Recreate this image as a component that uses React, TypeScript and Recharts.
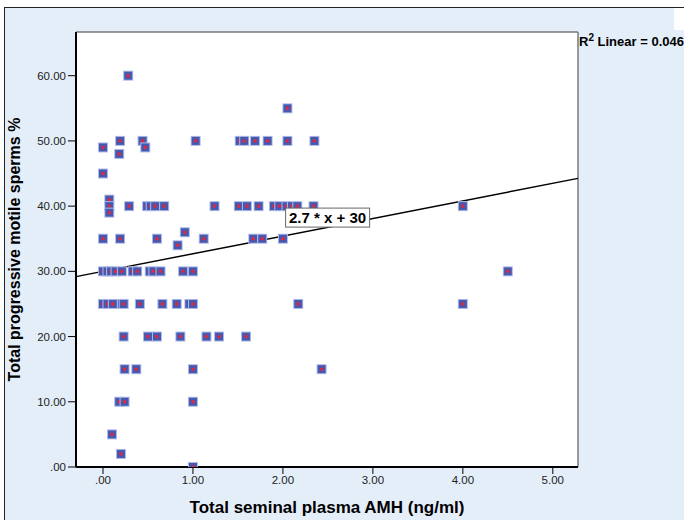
import React from 'react';
import {
    ScatterChart,
    Scatter,
    XAxis,
    YAxis,
    CartesianGrid,
    ReferenceLine,
    ReferenceDot
} from 'recharts';

// Total seminal plasma AMH (ng/ml), one entry per patient
const amhValues = [
    0.28,
    2.05,
    0.19, 0.44, 1.03, 1.52, 1.57, 1.69, 1.83, 2.05, 2.35,
    0.00, 0.47,
    0.18,
    0.00,
    0.07,
    0.07, 0.29, 0.49, 0.53, 0.58, 0.68, 1.24, 1.51, 1.60, 1.73, 1.90, 1.96, 2.04, 2.10, 2.16, 2.34, 4.00,
    0.07,
    0.91,
    0.00, 0.19, 0.60, 1.12, 1.67, 1.77, 2.00,
    0.83,
    0.00, 0.05, 0.09, 0.14, 0.21, 0.33, 0.38, 0.52, 0.56, 0.64, 0.89, 1.00, 4.50,
    0.00, 0.05, 0.11, 0.21, 0.23, 0.41, 0.66, 0.82, 0.96, 1.00, 2.17, 4.00,
    0.23, 0.50, 0.60, 0.86, 1.15, 1.29, 1.59,
    0.24, 0.37, 1.00, 2.43,
    0.18, 0.24, 1.00,
    0.10,
    0.20,
    1.00
];

// Total progressive motile sperms %, same order as amhValues
const motilityValues = [
    60,
    55,
    50, 50, 50, 50, 50, 50, 50, 50, 50,
    49, 49,
    48,
    45,
    41,
    40, 40, 40, 40, 40, 40, 40, 40, 40, 40, 40, 40, 40, 40, 40, 40, 40,
    39,
    36,
    35, 35, 35, 35, 35, 35, 35,
    34,
    30, 30, 30, 30, 30, 30, 30, 30, 30, 30, 30, 30, 30,
    25, 25, 25, 25, 25, 25, 25, 25, 25, 25, 25, 25,
    20, 20, 20, 20, 20, 20, 20,
    15, 15, 15, 15,
    10, 10, 10,
    5,
    2,
    0
];

const xTicks = [0, 1, 2, 3, 4, 5];
const yTicks = [0, 10, 20, 30, 40, 50, 60];

const fitSlope = 2.7;
const fitIntercept = 30;
const rSquared = '0.046';

const xMin = -0.3;
const xMax = 5.28;
const yMin = 0;
const yMax = 66.7;

const data = amhValues.map((amh, i) => ({ amh, motility: motilityValues[i] }));

const fmt = (v: number) => (v === 0 ? '.00' : v.toFixed(2));

const FONT = '"Liberation Sans", Arial, sans-serif';

const Marker = (props: any) => {
    const { cx, cy } = props;
    if (cx == null || cy == null) return null;
    return (
        <g>
            <rect x={cx - 5} y={cy - 5} width={10} height={10} fill="#aebbe6" />
            <rect x={cx - 4} y={cy - 4} width={8} height={8} fill="#4658b0" />
            <rect x={cx - 1.5} y={cy - 1.5} width={3} height={3} fill="#e4263a" />
        </g>
    );
};

const FitLabel = (props: any) => {
    const { cx, cy } = props;
    if (cx == null || cy == null) return null;
    return (
        <g>
            <rect x={cx} y={cy} width={84} height={19} fill="#fff" stroke="#666" strokeWidth={1} />
            <text x={cx + 42} y={cy + 15} textAnchor="middle" fontFamily={FONT} fontWeight="bold" fontSize={15} fill="#000">
                {`${fitSlope} * x + ${fitIntercept}`}
            </text>
        </g>
    );
};

export default function App() {
    return (
        <div style={{ position: 'fixed', left: 0, top: 0, width: 684, height: 520, background: '#fff', overflow: 'hidden' }}>
            <div style={{ position: 'absolute', left: 4, top: 7, width: 680, height: 513, background: '#e4eef9', borderTop: '1px solid #222', borderLeft: '1px solid #222', boxSizing: 'border-box' }} />
            <div style={{ position: 'absolute', left: 674, top: 8, width: 10, height: 22, background: '#fff' }} />
            <div style={{ position: 'absolute', left: 0, top: 0 }}>
                <ScatterChart width={684} height={520} margin={{ top: 32, right: 106, left: 0, bottom: 0 }}>
                    <CartesianGrid fill="#fff" horizontal={false} vertical={false} />
                    <XAxis
                        type="number"
                        dataKey="amh"
                        domain={[xMin, xMax]}
                        ticks={xTicks}
                        tickFormatter={fmt}
                        allowDataOverflow
                        height={53}
                        tickSize={7}
                        axisLine={{ stroke: '#000', strokeWidth: 2 }}
                        tickLine={{ stroke: '#000' }}
                        tick={{ fill: '#222', fontSize: 11.5, fontFamily: FONT }}
                        label={{ value: 'Total seminal plasma AMH (ng/ml)', position: 'insideBottom', offset: 7, fill: '#000', fontSize: 17, fontWeight: 'bold', fontFamily: FONT }}
                    />
                    <YAxis
                        type="number"
                        dataKey="motility"
                        domain={[yMin, yMax]}
                        ticks={yTicks}
                        tickFormatter={fmt}
                        allowDataOverflow
                        width={76}
                        tickSize={8}
                        axisLine={{ stroke: '#000', strokeWidth: 2 }}
                        tickLine={{ stroke: '#000' }}
                        tick={{ fill: '#222', fontSize: 11.5, fontFamily: FONT }}
                        label={{ value: 'Total progressive motile sperms %', angle: -90, position: 'insideLeft', offset: 14, fill: '#000', fontSize: 16, fontWeight: 'bold', fontFamily: FONT, style: { textAnchor: 'middle' } }}
                    />
                    <ReferenceLine y={yMax} stroke="#7a7a7a" strokeWidth={1.5} />
                    <ReferenceLine x={xMax} stroke="#7a7a7a" strokeWidth={1.5} />
                    <Scatter data={data} shape={Marker} isAnimationActive={false} />
                    <ReferenceLine
                        segment={[
                            { x: xMin, y: fitIntercept + fitSlope * xMin },
                            { x: xMax, y: fitIntercept + fitSlope * xMax }
                        ]}
                        stroke="#000"
                        strokeWidth={1.5}
                    />
                    <ReferenceDot x={2.03} y={39.7} shape={FitLabel} />
                </ScatterChart>
            </div>
            <div style={{ position: 'absolute', left: 579, top: 32, fontFamily: FONT, fontWeight: 'bold', fontSize: 13, color: '#000', whiteSpace: 'nowrap' }}>
                R<sup style={{ fontSize: 10 }}>2</sup> Linear = {rSquared}
            </div>
        </div>
    );
}
